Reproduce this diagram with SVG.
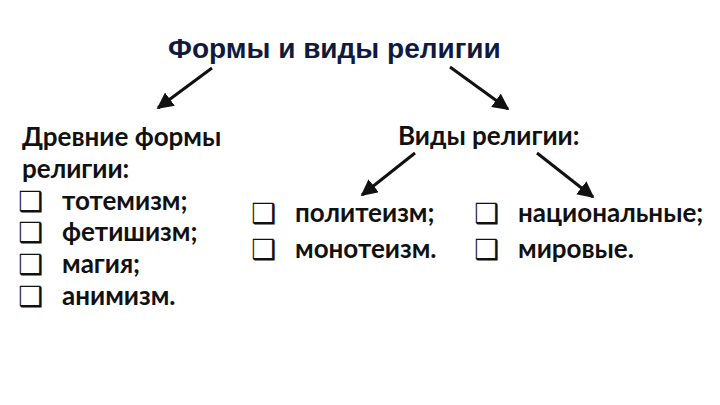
<svg xmlns="http://www.w3.org/2000/svg" width="720" height="405" viewBox="0 0 720 405">
<defs>
<marker id="ah" viewBox="0 0 10 10" refX="9" refY="5" markerWidth="5.5" markerHeight="5.5" orient="auto" markerUnits="strokeWidth">
<path d="M0,0 L10,5 L0,10 z" fill="#111"/>
</marker>
<style>
.title{font-family:"Liberation Sans",Arial,sans-serif;font-weight:bold;font-size:28px;fill:#0f1a3c}
.t{font-family:Lato,"Open Sans",sans-serif;font-weight:bold;font-size:26px;fill:#111}
.b{font-family:"DejaVu Sans",sans-serif;font-size:28px;fill:#111}
.c{stroke:#111;stroke-width:3;fill:none;marker-end:url(#ah)}
</style>
</defs>
<rect width="720" height="405" fill="#fff"/>
<g id="title"><text class="title" x="168" y="58">Формы и виды религии</text></g>
<g id="ancient">
<text class="t" x="22" y="146">Древние формы</text>
<text class="t" x="22" y="178">религии:</text>
<text class="b" x="18" y="211">❑</text><text class="t" x="62" y="210">тотемизм;</text>
<text class="b" x="18" y="242">❑</text><text class="t" x="62" y="241">фетишизм;</text>
<text class="b" x="18" y="274">❑</text><text class="t" x="62" y="273">магия;</text>
<text class="b" x="18" y="306">❑</text><text class="t" x="62" y="305">анимизм.</text>
</g>
<g id="kinds"><text class="t" x="398" y="145">Виды религии:</text></g>
<g id="theism">
<text class="b" x="251" y="223">❑</text><text class="t" x="295" y="222">политеизм;</text>
<text class="b" x="251" y="259">❑</text><text class="t" x="295" y="258">монотеизм.</text>
</g>
<g id="scope">
<text class="b" x="474" y="223">❑</text><text class="t" x="518" y="222">национальные;</text>
<text class="b" x="474" y="259">❑</text><text class="t" x="518" y="258">мировые.</text>
</g>
<g id="connectors">
<line class="c" x1="212" y1="68" x2="158" y2="108"/>
<line class="c" x1="450" y1="67" x2="508" y2="109"/>
<line class="c" x1="415" y1="153" x2="362" y2="195"/>
<line class="c" x1="537" y1="153" x2="593" y2="197"/>
</g>
</svg>
